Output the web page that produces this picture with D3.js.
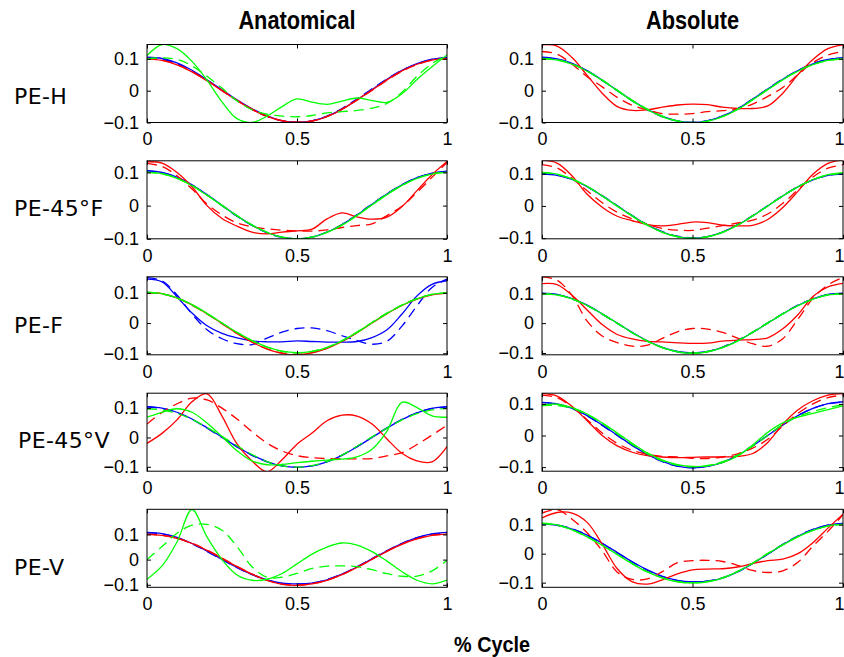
<!DOCTYPE html>
<html><head><meta charset="utf-8">
<script src="https://cdn.jsdelivr.net/npm/d3@7"></script>
<style>body{margin:0;background:#fff}svg{display:block}</style>
</head><body><svg id="c" width="844" height="657"></svg>
<script>
// ---------- data ----------
const cyclePct = [0,0.05,0.1,0.15,0.2,0.25,0.3,0.35,0.4,0.45,0.5,0.55,0.6,0.65,0.7,0.75,0.8,0.85,0.9,0.95,1];
const columnTitles = ["Anatomical","Absolute"];
const rowLabels = ["PE-H","PE-45°F","PE-F","PE-45°V","PE-V"];
const xTickValues = [0,0.5,1];
const xTickLabels = ["0","0.5","1"];
const yTickValues = [-0.1,0,0.1];
const yTickLabels = ["\u22120.1","0","0.1"];
const xAxisLabel = "% Cycle";
const seriesKeys = ["blue","blueDash","red","redDash","green","greenDash"];

// series order per panel: blue, blue--, red, red--, green, green--
const anaPEH = [
 [0.105,0.101,0.087,0.064,0.034,0.003,-0.029,-0.057,-0.079,-0.094,-0.099,-0.095,-0.081,-0.058,-0.029,0.003,0.036,0.064,0.085,0.099,0.104],
 [0.104,0.099,0.085,0.062,0.032,0.001,-0.031,-0.059,-0.081,-0.095,-0.100,-0.095,-0.080,-0.056,-0.026,0.006,0.037,0.064,0.084,0.098,0.103],
 [0.100,0.095,0.081,0.059,0.031,0.000,-0.031,-0.059,-0.081,-0.095,-0.100,-0.096,-0.082,-0.059,-0.029,0.002,0.034,0.062,0.083,0.096,0.100],
 [0.101,0.096,0.082,0.060,0.032,0.001,-0.030,-0.058,-0.080,-0.094,-0.099,-0.095,-0.081,-0.058,-0.030,0.001,0.033,0.061,0.082,0.096,0.101],
 [0.110,0.145,0.132,0.092,0.033,-0.035,-0.088,-0.100,-0.080,-0.050,-0.026,-0.036,-0.043,-0.033,-0.023,-0.031,-0.037,-0.010,0.035,0.075,0.112],
 [0.100,0.103,0.098,0.078,0.045,0.008,-0.032,-0.060,-0.074,-0.080,-0.082,-0.078,-0.070,-0.066,-0.062,-0.055,-0.040,-0.005,0.045,0.085,0.110]
];
const absPEH = [
 [0.105,0.100,0.086,0.063,0.033,0.001,-0.031,-0.059,-0.081,-0.095,-0.100,-0.095,-0.080,-0.057,-0.027,0.005,0.036,0.063,0.084,0.098,0.104],
 [0.104,0.099,0.085,0.062,0.032,0.000,-0.032,-0.060,-0.082,-0.095,-0.100,-0.094,-0.079,-0.056,-0.026,0.006,0.037,0.064,0.085,0.098,0.103],
 [0.144,0.140,0.104,0.048,-0.008,-0.050,-0.062,-0.060,-0.052,-0.045,-0.042,-0.044,-0.052,-0.056,-0.056,-0.048,-0.008,0.050,0.098,0.132,0.144],
 [0.123,0.115,0.083,0.044,0.012,-0.021,-0.046,-0.060,-0.072,-0.074,-0.072,-0.066,-0.063,-0.058,-0.042,-0.018,0.010,0.050,0.088,0.112,0.123],
 [0.100,0.096,0.083,0.061,0.032,0.000,-0.032,-0.060,-0.082,-0.096,-0.101,-0.096,-0.082,-0.059,-0.029,0.003,0.034,0.061,0.082,0.095,0.100],
 [0.101,0.097,0.084,0.062,0.034,0.002,-0.030,-0.058,-0.080,-0.095,-0.100,-0.096,-0.081,-0.058,-0.028,0.004,0.035,0.062,0.082,0.095,0.100]
];
const anaPE45F = [
 [0.105,0.100,0.086,0.063,0.033,0.001,-0.031,-0.059,-0.081,-0.095,-0.100,-0.095,-0.080,-0.057,-0.028,0.004,0.035,0.063,0.084,0.098,0.104],
 [0.104,0.099,0.085,0.062,0.032,0.000,-0.032,-0.060,-0.082,-0.096,-0.100,-0.095,-0.080,-0.057,-0.027,0.005,0.036,0.063,0.084,0.097,0.103],
 [0.132,0.128,0.100,0.057,0.000,-0.039,-0.062,-0.080,-0.085,-0.080,-0.076,-0.071,-0.040,-0.022,-0.034,-0.041,-0.035,-0.003,0.045,0.093,0.133],
 [0.127,0.118,0.090,0.050,0.005,-0.028,-0.052,-0.064,-0.070,-0.074,-0.076,-0.077,-0.073,-0.066,-0.060,-0.055,-0.030,-0.002,0.040,0.085,0.130],
 [0.100,0.096,0.082,0.060,0.031,0.000,-0.031,-0.059,-0.081,-0.095,-0.100,-0.095,-0.081,-0.059,-0.030,0.002,0.033,0.061,0.082,0.095,0.100],
 [0.101,0.096,0.083,0.061,0.032,0.001,-0.030,-0.058,-0.080,-0.095,-0.100,-0.095,-0.080,-0.058,-0.029,0.003,0.034,0.061,0.082,0.096,0.101]
];
const absPE45F = [
 [0.099,0.095,0.082,0.060,0.031,0.000,-0.031,-0.059,-0.081,-0.095,-0.100,-0.095,-0.081,-0.059,-0.031,0.000,0.031,0.059,0.081,0.095,0.099],
 [0.100,0.096,0.082,0.060,0.032,0.001,-0.030,-0.058,-0.080,-0.094,-0.099,-0.095,-0.081,-0.058,-0.030,0.001,0.032,0.060,0.081,0.095,0.100],
 [0.142,0.133,0.093,0.036,-0.004,-0.032,-0.046,-0.058,-0.062,-0.057,-0.050,-0.052,-0.060,-0.062,-0.060,-0.042,-0.005,0.045,0.098,0.132,0.142],
 [0.128,0.118,0.085,0.047,0.010,-0.020,-0.040,-0.057,-0.070,-0.075,-0.076,-0.069,-0.061,-0.053,-0.044,-0.025,0.008,0.050,0.090,0.117,0.128],
 [0.104,0.099,0.084,0.061,0.031,-0.001,-0.032,-0.060,-0.082,-0.096,-0.101,-0.096,-0.082,-0.060,-0.031,0.000,0.031,0.059,0.082,0.097,0.103],
 [0.103,0.098,0.083,0.060,0.031,0.000,-0.031,-0.059,-0.081,-0.095,-0.100,-0.095,-0.081,-0.059,-0.031,0.000,0.031,0.059,0.081,0.096,0.102]
];
const anaPEF = [
 [0.145,0.136,0.087,0.033,-0.009,-0.034,-0.049,-0.059,-0.062,-0.062,-0.059,-0.061,-0.063,-0.063,-0.061,-0.048,-0.022,0.030,0.090,0.128,0.140],
 [0.150,0.140,0.093,0.030,-0.022,-0.052,-0.068,-0.071,-0.050,-0.030,-0.018,-0.016,-0.025,-0.042,-0.058,-0.070,-0.060,-0.010,0.057,0.118,0.145],
 [0.101,0.097,0.083,0.060,0.031,-0.001,-0.034,-0.063,-0.086,-0.100,-0.105,-0.099,-0.084,-0.061,-0.032,0.000,0.031,0.058,0.079,0.093,0.099],
 [0.100,0.096,0.082,0.059,0.030,-0.002,-0.034,-0.062,-0.085,-0.099,-0.104,-0.098,-0.083,-0.060,-0.031,0.001,0.032,0.059,0.080,0.094,0.100],
 [0.102,0.097,0.083,0.061,0.032,0.000,-0.031,-0.058,-0.079,-0.093,-0.098,-0.094,-0.081,-0.059,-0.031,0.001,0.032,0.059,0.080,0.095,0.100],
 [0.101,0.096,0.082,0.060,0.031,0.000,-0.031,-0.058,-0.080,-0.094,-0.099,-0.094,-0.080,-0.058,-0.030,0.002,0.033,0.060,0.081,0.095,0.100]
];
const absPEF = [
 [0.100,0.096,0.082,0.060,0.031,0.000,-0.031,-0.059,-0.081,-0.095,-0.100,-0.095,-0.081,-0.059,-0.031,0.000,0.031,0.059,0.081,0.096,0.100],
 [0.099,0.095,0.081,0.059,0.030,-0.001,-0.032,-0.060,-0.082,-0.096,-0.100,-0.095,-0.080,-0.058,-0.030,0.001,0.032,0.060,0.081,0.095,0.099],
 [0.132,0.129,0.093,0.044,-0.005,-0.038,-0.053,-0.061,-0.063,-0.066,-0.068,-0.067,-0.060,-0.057,-0.055,-0.049,-0.019,0.028,0.089,0.121,0.133],
 [0.155,0.144,0.092,0.007,-0.043,-0.065,-0.077,-0.074,-0.051,-0.029,-0.018,-0.020,-0.031,-0.050,-0.069,-0.077,-0.052,0.013,0.083,0.128,0.153],
 [0.098,0.094,0.081,0.059,0.031,0.000,-0.032,-0.060,-0.082,-0.096,-0.101,-0.096,-0.082,-0.060,-0.031,0.000,0.031,0.058,0.080,0.094,0.098],
 [0.099,0.095,0.081,0.059,0.030,-0.001,-0.032,-0.060,-0.082,-0.096,-0.100,-0.095,-0.081,-0.059,-0.030,0.001,0.031,0.059,0.080,0.095,0.099]
];
const anaPE45V = [
 [0.105,0.100,0.086,0.063,0.033,0.001,-0.031,-0.060,-0.082,-0.097,-0.102,-0.097,-0.083,-0.061,-0.032,0.000,0.032,0.061,0.084,0.099,0.105],
 [0.104,0.099,0.085,0.062,0.032,0.000,-0.032,-0.061,-0.083,-0.097,-0.102,-0.097,-0.082,-0.060,-0.031,0.001,0.033,0.062,0.084,0.099,0.104],
 [-0.020,0.014,0.060,0.122,0.149,0.073,-0.022,-0.080,-0.117,-0.076,-0.023,0.015,0.057,0.076,0.073,0.046,-0.005,-0.054,-0.080,-0.083,-0.031],
 [0.046,0.085,0.115,0.134,0.128,0.100,0.063,0.020,-0.019,-0.046,-0.062,-0.069,-0.072,-0.073,-0.073,-0.072,-0.063,-0.052,-0.024,0.008,0.042],
 [0.069,0.086,0.098,0.086,0.049,0.003,-0.045,-0.080,-0.093,-0.092,-0.086,-0.081,-0.077,-0.074,-0.066,-0.040,0.022,0.120,0.102,0.074,0.069],
 [0.098,0.094,0.082,0.062,0.034,0.004,-0.028,-0.058,-0.082,-0.097,-0.101,-0.096,-0.082,-0.060,-0.030,0.002,0.032,0.060,0.081,0.094,0.099]
];
const absPE45V = [
 [0.105,0.100,0.086,0.063,0.033,0.001,-0.031,-0.060,-0.082,-0.097,-0.102,-0.098,-0.085,-0.063,-0.033,0.000,0.033,0.063,0.086,0.101,0.107],
 [0.104,0.099,0.085,0.062,0.032,0.000,-0.032,-0.061,-0.083,-0.097,-0.102,-0.097,-0.084,-0.062,-0.032,0.001,0.034,0.063,0.086,0.100,0.106],
 [0.133,0.125,0.092,0.047,0.000,-0.033,-0.053,-0.064,-0.068,-0.070,-0.069,-0.068,-0.068,-0.066,-0.057,-0.022,0.036,0.081,0.110,0.128,0.133],
 [0.128,0.120,0.090,0.050,0.008,-0.025,-0.047,-0.060,-0.066,-0.068,-0.072,-0.073,-0.068,-0.058,-0.040,-0.012,0.030,0.070,0.100,0.120,0.128],
 [0.098,0.099,0.088,0.068,0.040,0.008,-0.025,-0.055,-0.078,-0.092,-0.098,-0.096,-0.086,-0.065,-0.030,0.010,0.040,0.058,0.070,0.082,0.094],
 [0.095,0.095,0.086,0.066,0.038,0.005,-0.028,-0.058,-0.080,-0.094,-0.099,-0.095,-0.083,-0.062,-0.034,0.000,0.035,0.060,0.076,0.088,0.098]
];
const anaPEV = [
 [0.108,0.103,0.088,0.064,0.034,0.001,-0.031,-0.059,-0.080,-0.093,-0.096,-0.093,-0.080,-0.058,-0.029,0.003,0.035,0.064,0.087,0.102,0.108],
 [0.106,0.102,0.087,0.063,0.033,0.000,-0.032,-0.060,-0.081,-0.094,-0.097,-0.093,-0.079,-0.057,-0.028,0.004,0.036,0.065,0.087,0.101,0.106],
 [0.100,0.096,0.084,0.064,0.037,0.005,-0.028,-0.058,-0.083,-0.098,-0.102,-0.096,-0.082,-0.060,-0.031,0.001,0.033,0.061,0.082,0.096,0.101],
 [0.101,0.097,0.085,0.065,0.038,0.006,-0.027,-0.057,-0.082,-0.097,-0.101,-0.096,-0.082,-0.059,-0.030,0.002,0.034,0.062,0.083,0.097,0.101],
 [-0.078,-0.025,0.070,0.199,0.090,0.000,-0.061,-0.082,-0.078,-0.055,-0.017,0.022,0.050,0.066,0.058,0.032,-0.006,-0.048,-0.082,-0.096,-0.081],
 [0.000,0.052,0.105,0.137,0.140,0.117,0.052,-0.028,-0.070,-0.070,-0.055,-0.035,-0.026,-0.025,-0.028,-0.040,-0.056,-0.066,-0.066,-0.045,-0.003]
];
const absPEV = [
 [0.102,0.098,0.085,0.064,0.036,0.004,-0.028,-0.056,-0.078,-0.092,-0.097,-0.095,-0.084,-0.063,-0.034,-0.002,0.031,0.060,0.083,0.098,0.104],
 [0.103,0.099,0.086,0.064,0.035,0.003,-0.029,-0.057,-0.079,-0.093,-0.097,-0.094,-0.083,-0.062,-0.033,-0.001,0.032,0.061,0.084,0.098,0.104],
 [0.123,0.142,0.140,0.108,0.033,-0.052,-0.097,-0.105,-0.090,-0.070,-0.056,-0.053,-0.052,-0.046,-0.034,-0.024,-0.019,0.000,0.038,0.088,0.136],
 [0.140,0.151,0.119,0.072,0.010,-0.064,-0.089,-0.087,-0.062,-0.031,-0.024,-0.023,-0.027,-0.040,-0.058,-0.065,-0.059,-0.030,0.026,0.077,0.134],
 [0.105,0.099,0.082,0.058,0.029,-0.003,-0.035,-0.063,-0.084,-0.097,-0.101,-0.097,-0.084,-0.062,-0.033,0.000,0.030,0.058,0.080,0.096,0.101],
 [0.104,0.098,0.082,0.058,0.029,-0.003,-0.034,-0.062,-0.083,-0.096,-0.100,-0.096,-0.083,-0.061,-0.032,0.001,0.031,0.059,0.080,0.095,0.101]
];
// y-axis limits of each panel [row][col]
const yLimits = [
 [[-0.1,0.145],[-0.1,0.145]],
 [[-0.1,0.135],[-0.102,0.14]],
 [[-0.105,0.153],[-0.106,0.155]],
 [[-0.115,0.151],[-0.113,0.134]],
 [[-0.11,0.2],[-0.116,0.153]]
];
const panelData = [[anaPEH,absPEH],[anaPE45F,absPE45F],[anaPEF,absPEF],[anaPE45V,absPE45V],[anaPEV,absPEV]];

// ---------- layout / style ----------
const colLeft = [147, 542], colWidth = [300, 301];
const rowTop = [44.5, 160.8, 276.8, 393.2, 509.3], panelH = 78;
const rowLabelPos = [[14,96],[14,208],[14,325],[18,440],[14,567]];
const styles = {
  blue:{c:"#0000ff",d:null}, blueDash:{c:"#0000ff",d:"10,6"},
  red:{c:"#ff0000",d:null}, redDash:{c:"#ff0000",d:"10,6"},
  green:{c:"#00ff00",d:null}, greenDash:{c:"#00ff00",d:"10,6"}
};
const drawOrder = [0,1,2,3,4,5];

const svg = d3.select("#c");
const tickFont = "'Liberation Sans', Arial, sans-serif";

panelData.forEach((rowP, r) => {
  rowP.forEach((series, c) => {
    const x = d3.scaleLinear().domain([0,1]).range([colLeft[c], colLeft[c]+colWidth[c]]);
    const y = d3.scaleLinear().domain(yLimits[r][c]).range([rowTop[r]+panelH, rowTop[r]]);
    const id = `clip${r}_${c}`;
    svg.append("clipPath").attr("id", id).append("rect")
      .attr("x", x(0)).attr("y", rowTop[r]).attr("width", colWidth[c]).attr("height", panelH);
    const g = svg.append("g");
    const line = d3.line().x((d,i)=>x(cyclePct[i])).y(d=>y(d)).curve(d3.curveCatmullRom.alpha(0.5));
    const lg = g.append("g").attr("clip-path", `url(#${id})`);
    drawOrder.forEach(k => {
      const st = styles[seriesKeys[k]];
      lg.append("path").attr("d", line(series[k])).attr("fill","none")
        .attr("stroke", st.c).attr("stroke-width", 1.3)
        .attr("stroke-dasharray", st.d).attr("stroke-linejoin","round");
    });
    // axes
    const bottom = rowTop[r]+panelH;
    const ax = g.append("g").attr("transform", `translate(0,${bottom})`)
      .call(d3.axisBottom(x).tickValues(xTickValues).tickSize(-4).tickPadding(10)
        .tickFormat((d,i)=>xTickLabels[i]));
    // keep the right-most label of the right column inside the canvas
    if (c === 1) ax.selectAll(".tick text").filter(d => d === 1).attr("text-anchor","end").attr("x", 1);
    const axT = g.append("g").attr("transform", `translate(0,${rowTop[r]})`)
      .call(d3.axisTop(x).tickValues(xTickValues).tickSize(-4).tickFormat(""));
    const ay = g.append("g").attr("transform", `translate(${x(0)},0)`)
      .call(d3.axisLeft(y).tickValues(yTickValues).tickSize(-4).tickPadding(8)
        .tickFormat((d,i)=>yTickLabels[i]));
    const ayR = g.append("g").attr("transform", `translate(${x(1)},0)`)
      .call(d3.axisRight(y).tickValues(yTickValues).tickSize(-4).tickFormat(""));
    [ax,axT,ay,ayR].forEach(a => {
      a.select(".domain").remove();
      a.selectAll("line").attr("stroke","#000");
      a.selectAll("text").attr("fill","#000").style("font-family", tickFont).style("font-size","18px");
    });
    g.append("rect").attr("x", x(0)).attr("y", rowTop[r]).attr("width", colWidth[c]).attr("height", panelH)
      .attr("fill","none").attr("stroke","#000").attr("stroke-width",1);
  });
  svg.append("text").attr("x", rowLabelPos[r][0]).attr("y", rowLabelPos[r][1]).attr("dy","0.35em")
    .style("font-family","'DejaVu Sans', sans-serif").style("font-size","22px")
    .style("letter-spacing","0.4px").text(rowLabels[r]);
});

columnTitles.forEach((t, c) => {
  const cx = colLeft[c] + colWidth[c]/2;
  svg.append("text").attr("transform", `translate(${cx},29) scale(0.87,1)`)
    .attr("text-anchor","middle").style("font-family", tickFont).style("font-weight","bold")
    .style("font-size","25px").text(t);
});
svg.append("text").attr("transform", `translate(492,652) scale(0.9,1)`).attr("text-anchor","middle")
  .style("font-family", tickFont).style("font-weight","bold").style("font-size","22px").text(xAxisLabel);
</script></body></html>
